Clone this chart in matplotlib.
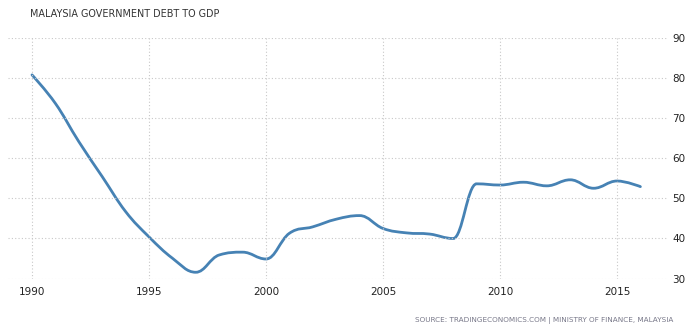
import numpy as np
import matplotlib.pyplot as plt
from matplotlib.path import Path
from matplotlib.patches import PathPatch

# ── Data ────────────────────────────────────────────────────────────────────
years = list(range(1990, 2017))
debt = [80.7, 73.6, 64.1, 55.4, 46.7, 40.4, 35.1, 31.6, 35.9, 36.6,
        34.9, 41.3, 42.9, 44.8, 45.7, 42.5, 41.4, 41.1, 40.0, 53.6,
        53.3, 54.0, 53.1, 54.6, 52.5, 54.3, 52.9]

x_ticks = [1990, 1995, 2000, 2005, 2010, 2015]
y_ticks = [30, 40, 50, 60, 70, 80, 90]

title = "MALAYSIA GOVERNMENT DEBT TO GDP"
source = "SOURCE: TRADINGECONOMICS.COM | MINISTRY OF FINANCE, MALAYSIA"


# ── Spline path (same control-point rule as a web spline chart) ────────────
def spline_path(x, y, smoothing=1.5):
    n = len(x)
    denom = smoothing + 1
    left = [None] * n
    right = [None] * n
    for i in range(1, n - 1):
        lx = (smoothing * x[i] + x[i - 1]) / denom
        ly = (smoothing * y[i] + y[i - 1]) / denom
        rx = (smoothing * x[i] + x[i + 1]) / denom
        ry = (smoothing * y[i] + y[i + 1]) / denom
        corr = (ry - ly) * (rx - x[i]) / (rx - lx) + y[i] - ry
        ly += corr
        ry += corr
        if ly > y[i - 1] and ly > y[i]:
            ly = max(y[i - 1], y[i]); ry = 2 * y[i] - ly
        elif ly < y[i - 1] and ly < y[i]:
            ly = min(y[i - 1], y[i]); ry = 2 * y[i] - ly
        if ry > y[i + 1] and ry > y[i]:
            ry = max(y[i + 1], y[i]); ly = 2 * y[i] - ry
        elif ry < y[i + 1] and ry < y[i]:
            ry = min(y[i + 1], y[i]); ly = 2 * y[i] - ry
        left[i] = (lx, ly)
        right[i] = (rx, ry)
    left[-1] = (x[-1], y[-1])
    right[0] = (x[0], y[0])
    verts = [(x[0], y[0])]
    codes = [Path.MOVETO]
    for i in range(1, n):
        verts += [right[i - 1], left[i], (x[i], y[i])]
        codes += [Path.CURVE4] * 3
    return Path(verts, codes)


# ── Plot ────────────────────────────────────────────────────────────────────
plt.rcParams['font.family'] = ['DejaVu Sans']

fig = plt.figure(figsize=(6.87, 3.30), dpi=100)
ax = fig.add_axes([8 / 687, 1 - 278.7 / 330, 660 / 687, (278.7 - 37.5) / 330])

ax.add_patch(PathPatch(spline_path(years, debt), facecolor="none",
                       edgecolor="#4682b4", linewidth=2, capstyle="round"))

ax.set_xlim(1990 - 24 / 23.4, 1990 + 636 / 23.4)
ax.set_ylim(30, 90)
ax.set_xticks(x_ticks)
ax.set_yticks(y_ticks)

ax.grid(True, color="#c8c8c8", linestyle=(0, (1, 2)), linewidth=0.8)
for s in ax.spines.values():
    s.set_visible(False)

ax.yaxis.tick_right()
ax.tick_params(axis="both", length=0, labelsize=7.5, labelcolor="#222222")
ax.tick_params(axis="y", pad=3)
ax.tick_params(axis="x", pad=6)

fig.text(30 / 687, 1 - 14 / 330, title, fontsize=6.9, color="#333333",
         va="center", ha="left")
fig.text(673 / 687, 1 - 321 / 330, source, fontsize=5.2, color="#777788",
         va="center", ha="right")

fig.savefig("out.png", dpi=100)
